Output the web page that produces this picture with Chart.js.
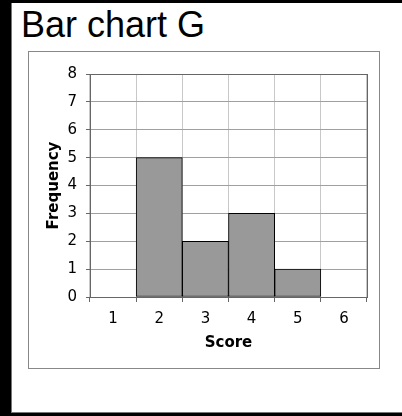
<!DOCTYPE html>
<html>
<head>
<meta charset="utf-8">
<script src="https://cdn.jsdelivr.net/npm/chart.js@4"></script>
<style>
    html, body { margin: 0; padding: 0; background: #fff; }
    .frame {
        position: absolute; left: 0; top: 0; width: 402px; height: 416px;
        box-sizing: border-box;
        border-left: 11px solid #000;
        border-top: 3px solid #000;
        border-bottom: 3px solid #000;
        box-shadow: inset 1px -1px 0 #777;
    }
    .title {
        position: absolute; left: 21px; top: 7px;
        font-family: "Liberation Sans", Arial, sans-serif;
        font-size: 36px; line-height: 36px; color: #000;
    }
    .chart-box {
        position: absolute; left: 28px; top: 51px; width: 352px; height: 318px;
        box-sizing: border-box; border: 1px solid #888; background: #fff;
    }
    canvas { display: block; }
</style>
</head>
<body>
<div class="frame"></div>
<div class="title">Bar chart G</div>
<div class="chart-box">
    <canvas id="barChart" width="350" height="316"></canvas>
</div>
<script>
// Chart data
const scoreLabels = ['1', '2', '3', '4', '5', '6'];
const frequencyValues = [0, 5, 2, 3, 1, 0];
const yTickValues = [0, 1, 2, 3, 4, 5, 6, 7, 8];

const labelFont = { family: 'DejaVu Sans', size: 15 };
const titleFont = { family: 'DejaVu Sans', size: 15, weight: 'bold' };

// Draws the dark border round the plot area
const plotBorder = {
    id: 'plotBorder',
    afterDraw(chart) {
        const { ctx, chartArea } = chart;
        ctx.save();
        ctx.strokeStyle = '#666';
        ctx.lineWidth = 1;
        ctx.strokeRect(Math.round(chartArea.left) + 0.5, Math.round(chartArea.top) + 0.5,
            Math.round(chartArea.right - chartArea.left), Math.round(chartArea.bottom - chartArea.top));
        ctx.restore();
    }
};

new Chart(document.getElementById('barChart').getContext('2d'), {
    type: 'bar',
    data: {
        labels: scoreLabels,
        datasets: [{
            label: 'Frequency',
            data: frequencyValues,
            backgroundColor: '#999999',
            borderColor: '#000000',
            borderWidth: 1,
            borderSkipped: false,
            barPercentage: 1,
            categoryPercentage: 1
        }]
    },
    options: {
        responsive: false,
        animation: false,
        layout: { padding: { left: 0, top: 22, right: 12, bottom: 0 } },
        plugins: {
            legend: { display: false },
            tooltip: { enabled: false }
        },
        scales: {
            x: {
                afterFit: (s) => { s.height = 71; },
                grid: {
                    offset: true,
                    color: '#c8c8c8',
                    tickColor: '#666',
                    tickLength: 5
                },
                border: { color: '#666' },
                ticks: { color: '#000', font: labelFont, padding: 8 },
                title: {
                    display: true, text: 'Score', color: '#000',
                    font: titleFont, padding: { top: 0, bottom: 16 }
                }
            },
            y: {
                min: 0,
                max: 8,
                afterFit: (s) => { s.width = 61; },
                afterBuildTicks: (s) => { s.ticks = yTickValues.map(v => ({ value: v })); },
                grid: { color: '#a0a0a0', tickColor: '#666', tickLength: 4 },
                border: { color: '#666' },
                ticks: { color: '#000', font: labelFont, padding: 9, stepSize: 1 },
                title: {
                    display: true, text: 'Frequency', color: '#000',
                    font: titleFont, padding: { top: 16, bottom: 0 }
                }
            }
        }
    },
    plugins: [plotBorder]
});
</script>
</body>
</html>
